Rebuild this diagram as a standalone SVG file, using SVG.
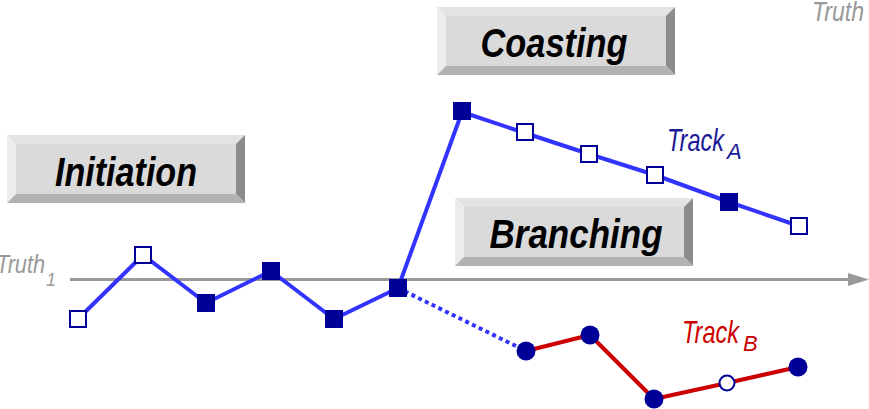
<svg xmlns="http://www.w3.org/2000/svg" xmlns:xlink="http://www.w3.org/1999/xlink" width="869" height="409" viewBox="0 0 869 409">
  <style>
    .label { font-family: "Liberation Sans", Arial, sans-serif; font-style: italic; font-weight: bold; font-size: 40px; fill: #000; }
    .truth { font-family: "Liberation Sans", Arial, sans-serif; font-style: italic; fill: #999; }
    .track { font-family: "Liberation Sans", Arial, sans-serif; font-style: italic; }
    .lineA { fill: none; stroke: #3333ff; stroke-width: 4; stroke-linejoin: round; }
    .lineB { fill: none; stroke: #cc0000; stroke-width: 4; stroke-linejoin: round; }
    .dotted { fill: none; stroke: #3333ff; stroke-width: 4; stroke-dasharray: 4 3.5; }
    .sq { fill: #000099; }
    .sqo { fill: #fff; stroke: #000099; stroke-width: 2; }
    .dot { fill: #000099; }
    .doto { fill: #fff; stroke: #000099; stroke-width: 2; }
  </style>
  <defs>
    <!-- bevelled button, 238 x 68, bevel 9 -->
    <g id="bevel">
      <rect x="9" y="9" width="220" height="50" fill="#dadada"/>
      <polygon points="0,0 238,0 229,9 9,9" fill="#e3e3e3"/>
      <polygon points="0,0 9,9 9,59 0,68" fill="#ececec"/>
      <polygon points="238,0 238,68 229,59 229,9" fill="#8c8c8c"/>
      <polygon points="0,68 9,59 229,59 238,68" fill="#b2b2b2"/>
    </g>
    <rect id="sqf" x="-9" y="-9" width="18" height="18" class="sq"/>
    <rect id="sqe" x="-8" y="-8" width="16" height="16" class="sqo"/>
  </defs>

  <!-- truth axis -->
  <g id="axis">
    <line x1="70" y1="279.5" x2="850" y2="279.5" stroke="#999" stroke-width="3"/>
    <polygon points="848,273 869,279.5 848,286" fill="#999"/>
  </g>

  <g id="truth-labels">
    <text class="truth"><tspan x="-4" y="273" font-size="26" textLength="49" lengthAdjust="spacingAndGlyphs">Truth</tspan><tspan x="46" y="286" font-size="18">1</tspan></text>
    <text class="truth" x="812" y="21" font-size="27" fill="#a6a6a6" textLength="52" lengthAdjust="spacingAndGlyphs">Truth</text>
  </g>

  <!-- phase buttons -->
  <g id="initiation">
    <use xlink:href="#bevel" x="7" y="135"/>
    <text class="label" x="126" y="186" text-anchor="middle" textLength="142" lengthAdjust="spacingAndGlyphs">Initiation</text>
  </g>
  <g id="coasting">
    <use xlink:href="#bevel" x="437" y="7"/>
    <text class="label" x="554" y="57" text-anchor="middle" textLength="147" lengthAdjust="spacingAndGlyphs">Coasting</text>
  </g>
  <g id="branching">
    <use xlink:href="#bevel" x="455" y="198"/>
    <text class="label" x="576" y="248" text-anchor="middle" textLength="173" lengthAdjust="spacingAndGlyphs">Branching</text>
  </g>

  <!-- track connectors -->
  <g id="connectors">
    <polyline class="lineA" points="78,319 143,255 206,303 271,271 334,319 398,288 462,112 525,133 589,154 655,175 729,202 799,226"/>
    <line class="dotted" x1="398" y1="288" x2="526" y2="351"/>
    <polyline class="lineB" points="526,351 590,335 654,399 727,383 798,367"/>
  </g>

  <!-- track A measurements -->
  <g id="trackA-points">
    <use id="a1" xlink:href="#sqe" x="78" y="319"/>
    <use id="a2" xlink:href="#sqe" x="143" y="255"/>
    <use id="a3" xlink:href="#sqf" x="206" y="303"/>
    <use id="a4" xlink:href="#sqf" x="271" y="271"/>
    <use id="a5" xlink:href="#sqf" x="334" y="319"/>
    <use id="a6" xlink:href="#sqf" x="398" y="288"/>
    <use id="a7" xlink:href="#sqf" x="462" y="111"/>
    <use id="a8" xlink:href="#sqe" x="525" y="132"/>
    <use id="a9" xlink:href="#sqe" x="589" y="154"/>
    <use id="a10" xlink:href="#sqe" x="655" y="175"/>
    <use id="a11" xlink:href="#sqf" x="729" y="202"/>
    <use id="a12" xlink:href="#sqe" x="799" y="226"/>
  </g>

  <!-- track B measurements -->
  <g id="trackB-points">
    <circle id="b1" class="dot" cx="526" cy="351" r="9.5"/>
    <circle id="b2" class="dot" cx="590" cy="335" r="9.5"/>
    <circle id="b3" class="dot" cx="654" cy="399" r="9.5"/>
    <circle id="b4" class="doto" cx="727" cy="383" r="7.5"/>
    <circle id="b5" class="dot" cx="798" cy="367" r="9.5"/>
  </g>

  <g id="track-labels">
    <text class="track" fill="#1a1a99"><tspan x="667" y="151" font-size="32" textLength="57" lengthAdjust="spacingAndGlyphs">Track</tspan><tspan x="727" y="159" font-size="22">A</tspan></text>
    <text class="track" fill="#cc0000"><tspan x="682" y="343" font-size="32" textLength="57" lengthAdjust="spacingAndGlyphs">Track</tspan><tspan x="743" y="351" font-size="22">B</tspan></text>
  </g>
</svg>
